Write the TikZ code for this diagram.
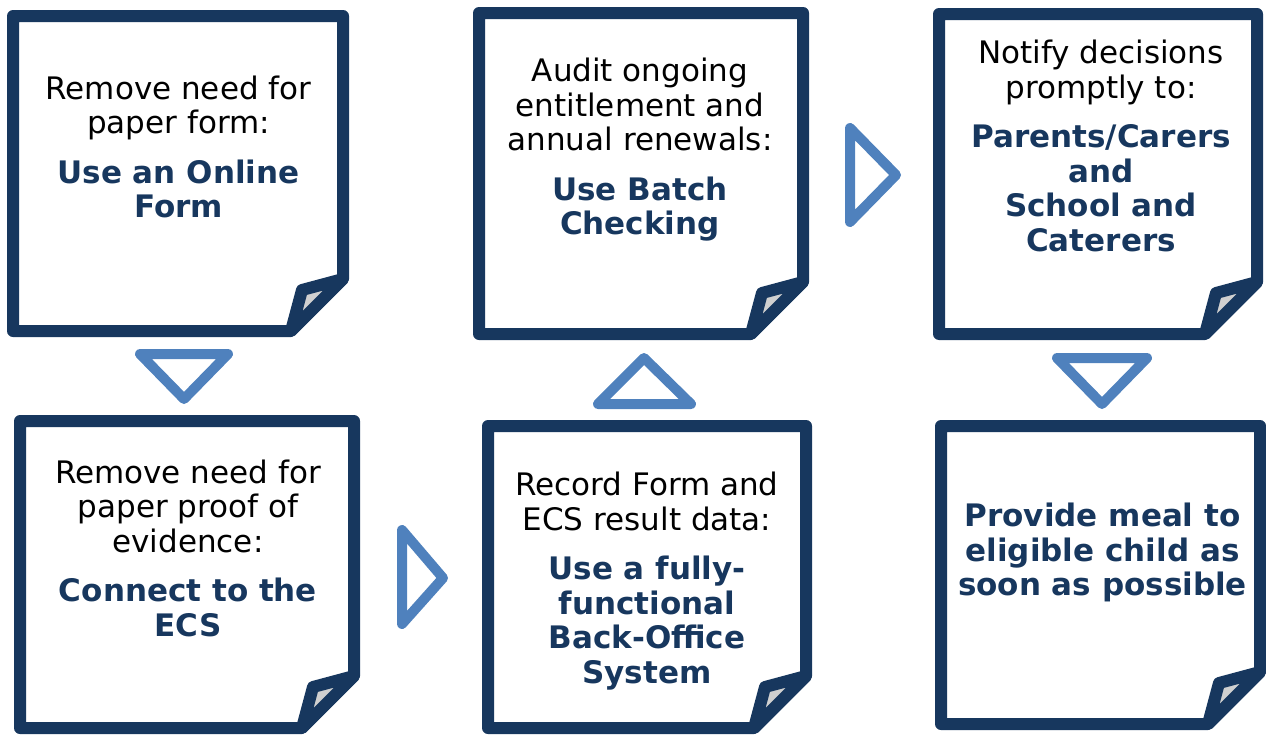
\documentclass[tikz,border=0pt]{standalone}
\usepackage{fontspec}
\setmainfont{DejaVu Sans}
\definecolor{navy}{HTML}{17375E}
\definecolor{arrowblue}{HTML}{4F81BD}
\definecolor{flapgray}{HTML}{D0D0D0}
\tikzset{
  boxline/.style={draw=navy, line width=12pt, line join=round, fill=white},
  flap/.style={draw=navy, line width=12pt, line join=round, fill=flapgray},
  tri/.style={draw=arrowblue, line width=10pt, line join=round},
  boxtext/.style={align=center, inner sep=0pt, font=\fontsize{31}{34.5}\selectfont}
}
\newcommand\notepaper[4]{%
  \draw[boxline] (#1,#2) -- (#3,#2) -- (#3,#4-52) -- (#3-52,#4) -- (#1,#4) -- cycle;
  \draw[flap] (#3,#4-52) -- (#3-41,#4-41) -- (#3-52,#4) -- cycle;
}
\newcommand\hi{\bfseries\color{navy}}
\begin{document}
\begin{tikzpicture}[x=1pt,y=-1pt]
\useasboundingbox (0,0) rectangle (1266,736);
% boxes
\notepaper{13}{16}{343}{331}
\notepaper{20}{421}{354}{728}
\notepaper{479}{13}{803}{334}
\notepaper{488}{426}{806}{728}
\notepaper{939}{14}{1257}{334}
\notepaper{941}{426}{1260}{724}
% texts
\node[boxtext] (t1) at (178.5,146.8) {Remove need for\\paper form:\\[15pt]\hi Use an Online\\\hi Form};
\node[boxtext] (t2) at (188,548) {Remove need for\\paper proof of\\evidence:\\[15pt]\hi Connect to the\\\hi ECS};
\node[boxtext] (t3) at (640,150) {Audit ongoing\\entitlement and\\annual renewals:\\[15pt]\hi Use Batch\\\hi Checking};
\node[boxtext] (t4) at (647,581) {Record Form and\\ECS result data:\\[15pt]\hi Use a fully-\\\hi functional\\\hi Back-Office\\\hi System};
\node[boxtext] (t5) at (1101,146) {Notify decisions\\promptly to:\\[15pt]\hi Parents/Carers\\\hi and\\\hi School and\\\hi Caterers};
\node[boxtext] (t6) at (1102.5,552.5) {\hi Provide meal to\\\hi eligible child as\\\hi soon as possible};
% arrows
\draw[tri] (140,354) -- (228,354) -- (184,399) -- cycle;
\draw[tri] (644,358) -- (691,404) -- (598,404) -- cycle;
\draw[tri] (402,530) -- (443,578) -- (402,624) -- cycle;
\draw[tri] (850,128) -- (896,175) -- (850,222) -- cycle;
\draw[tri] (1057,358) -- (1147,358) -- (1102,404) -- cycle;
\end{tikzpicture}
\end{document}
